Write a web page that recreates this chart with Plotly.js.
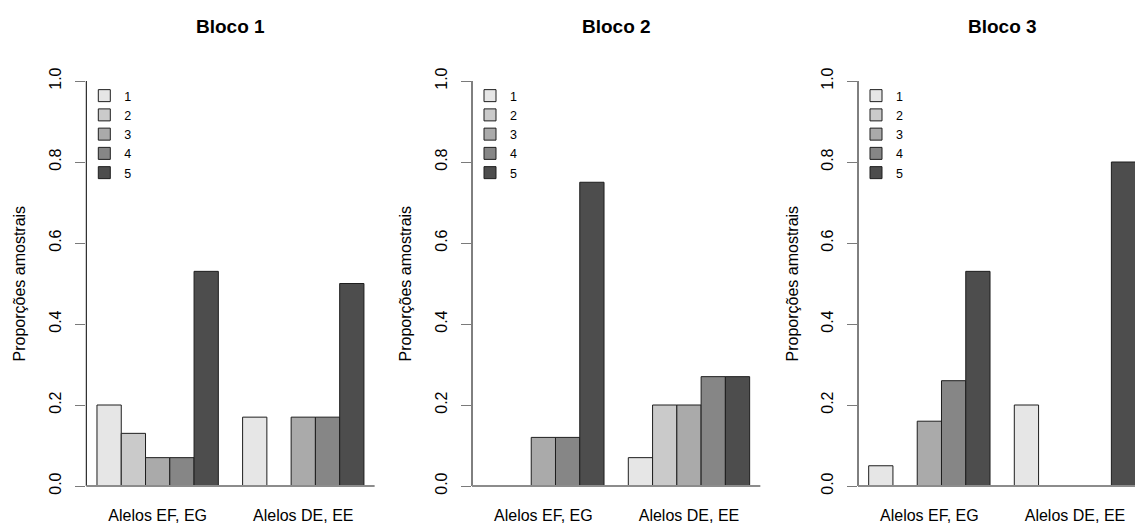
<!DOCTYPE html>
<html>
<head>
<meta charset="utf-8">
<script src="https://cdn.plot.ly/plotly-3.0.1.min.js"></script>
<style>
  html, body { margin: 0; padding: 0; background: #ffffff; }
  #chart { width: 1135px; height: 523px; }
</style>
</head>
<body>
<div id="chart"></div>
<script>
// ---- Data ----
const categories = ["Alelos EF, EG", "Alelos DE, EE"];
const seriesNames = ["1", "2", "3", "4", "5"];
const panelTitles = ["Bloco 1", "Bloco 2", "Bloco 3"];
const yTickValues = [0, 0.2, 0.4, 0.6, 0.8, 1.0];
const yTickLabels = ["0.0", "0.2", "0.4", "0.6", "0.8", "1.0"];
const yAxisTitle = "Proporções amostrais";

// values[panel][series] = [EF,EG value, DE,EE value]
const bloco1 = [[0.20, 0.17], [0.13, 0.00], [0.07, 0.17], [0.07, 0.17], [0.53, 0.50]];
const bloco2 = [[0.00, 0.07], [0.00, 0.20], [0.12, 0.20], [0.12, 0.27], [0.75, 0.27]];
const bloco3 = [[0.05, 0.20], [0.00, 0.00], [0.16, 0.00], [0.26, 0.00], [0.53, 0.80]];
const panels = [bloco1, bloco2, bloco3];

const seriesColors = ["#E6E6E6", "#CACACA", "#AAAAAA", "#868686", "#4D4D4D"];

// ---- Layout geometry (pixels) ----
const W = 1135, H = 523;
const FONT = "Liberation Sans, Arial, Helvetica, sans-serif";
const plotLeft = [86.3, 472, 858];
const unitPx = 24.27 * 6;            // pixels per category unit
const fullRange = [-0.49, 1.49];
const yDomain = [1 - 502.2 / H, 1 - 64.8 / H];
const yTitleX = [19, 405, 792];

const traces = [];
const layout = {
  width: W, height: H,
  margin: {l: 0, r: 0, t: 0, b: 0, pad: 0},
  paper_bgcolor: "#ffffff",
  plot_bgcolor: "rgba(0,0,0,0)",
  barmode: "group",
  bargap: 1 / 6,
  bargroupgap: 0,
  font: {family: FONT, size: 16, color: "#000000"},
  showlegend: true,
  shapes: [],
  annotations: []
};

panels.forEach((vals, p) => {
  const idx = p === 0 ? "" : String(p + 1);
  const xa = "x" + idx, ya = "y" + idx;
  const legendId = "legend" + idx;
  vals.forEach((pair, s) => {
    traces.push({
      type: "bar",
      x: categories,
      y: pair,
      name: seriesNames[s],
      xaxis: xa, yaxis: ya,
      legend: legendId,
      marker: {color: seriesColors[s], line: {color: "#1e1e1e", width: 1}},
      hoverinfo: "skip"
    });
  });

  const left = plotLeft[p];
  let right = left + unitPx * (fullRange[1] - fullRange[0]);
  let range = fullRange.slice();
  if (right > W) {
    range[1] = fullRange[0] + (W - left) / unitPx;
    right = W;
  }

  layout["xaxis" + idx] = {
    domain: [left / W, right / W],
    anchor: ya,
    range: range,
    type: "category",
    showline: false, showgrid: false, zeroline: false,
    ticks: "",
    tickfont: {family: FONT, size: 16, color: "#000"},
    ticklabelstandoff: 2,
    fixedrange: true
  };
  layout["yaxis" + idx] = {
    domain: yDomain,
    anchor: xa,
    range: [-0.04, 1.04],
    tickmode: "array",
    tickvals: yTickValues,
    ticktext: yTickLabels,
    tickangle: -90,
    ticks: "outside", ticklen: 10, tickwidth: 1, tickcolor: "#7a7a7a",
    tickfont: {family: FONT, size: 16, color: "#000"},
    ticklabelstandoff: 8,
    showline: false, showgrid: false, zeroline: false,
    fixedrange: true
  };

  // y axis line from 0 to 1 (R style)
  layout.shapes.push({
    type: "line", xref: xa + " domain", yref: ya,
    x0: 0, x1: 0, y0: 0, y1: 1,
    line: {color: "#000000", width: 1}
  });
  // baseline at 0
  layout.shapes.push({
    type: "line", xref: xa + " domain", yref: ya,
    x0: 0, x1: 1, y0: 0, y1: 0,
    line: {color: "#8c8c8c", width: 2}
  });

  // panel title
  layout.annotations.push({
    xref: "paper", yref: "paper",
    x: (left + (left + unitPx * (fullRange[1] - fullRange[0]))) / 2 / W,
    y: 1 - 26 / H,
    xanchor: "center", yanchor: "middle",
    text: "<b>" + panelTitles[p] + "</b>",
    showarrow: false,
    font: {family: FONT, size: 19, color: "#000"}
  });
  // y axis title
  layout.annotations.push({
    xref: "paper", yref: "paper",
    x: yTitleX[p] / W, y: 1 - 283.5 / H,
    xanchor: "center", yanchor: "middle",
    text: yAxisTitle, textangle: -90,
    showarrow: false,
    font: {family: FONT, size: 16, color: "#000"}
  });

  layout[legendId] = {
    x: (left - 2) / W, y: 1 - 81 / H,
    xanchor: "left", yanchor: "top",
    bgcolor: "rgba(0,0,0,0)", borderwidth: 0,
    font: {family: FONT, size: 12.5, color: "#000"},
    itemwidth: 30,
    traceorder: "normal"
  };
});

Plotly.newPlot("chart", traces, layout, {staticPlot: true, displayModeBar: false});
</script>
</body>
</html>
